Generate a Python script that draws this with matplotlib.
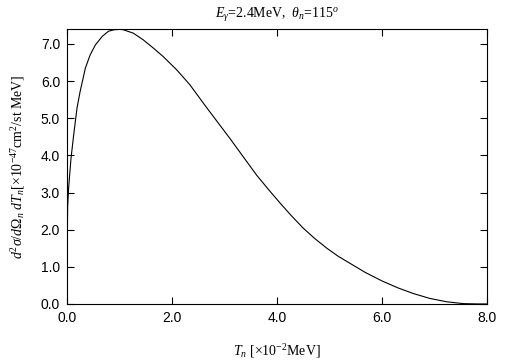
import matplotlib
matplotlib.use("Agg")
import matplotlib.pyplot as plt

plt.rcParams['mathtext.fontset'] = 'custom'
plt.rcParams['mathtext.rm'] = 'Liberation Serif'
plt.rcParams['mathtext.it'] = 'Liberation Serif:italic'

# neutron kinetic energy [x10^-2 MeV] and cross section [x10^-47 cm^2/st MeV]
T_n = [0.005, 0.012, 0.03, 0.076, 0.127, 0.19, 0.25, 0.35, 0.44, 0.54, 0.67, 0.79,
       0.90, 1.02, 1.07, 1.26, 1.45, 1.65, 1.83, 2.09, 2.34, 2.63, 3.10, 3.61,
       3.85, 4.05, 4.27, 4.50, 4.72, 4.95, 5.17, 5.36, 5.68, 6.00, 6.31,
       6.60, 6.91, 7.23, 7.55, 7.8, 8.0]
xsec = [1.75, 2.62, 3.11, 3.92, 4.55, 5.27, 5.72, 6.35, 6.70, 6.97, 7.20, 7.34,
        7.38, 7.39, 7.38, 7.29, 7.11, 6.88, 6.66, 6.30, 5.90, 5.34, 4.46, 3.47,
        3.06, 2.73, 2.38, 2.04, 1.76, 1.50, 1.28, 1.12, 0.85, 0.62, 0.43,
        0.28, 0.15, 0.06, 0.01, 0.002, 0.0]

fig = plt.figure(figsize=(5.05, 3.61), dpi=100)
ax = fig.add_axes([0.1327, 0.1579, 0.8317, 0.7618])
ax.plot(T_n, xsec, color='black', lw=0.8)

ax.set_xlim(0, 8.0)
ax.set_ylim(0, 7.4)
ax.set_xticks([0, 2, 4, 6, 8])
ax.set_yticks([0, 1, 2, 3, 4, 5, 6, 7])
ax.set_xticklabels(['0.0', '2.0', '4.0', '6.0', '8.0'], family='Liberation Sans', fontsize=10)
ax.set_yticklabels(['0.0', '1.0', '2.0', '3.0', '4.0', '5.0', '6.0', '7.0'], family='Liberation Sans', fontsize=10)
ax.tick_params(direction='in', top=True, right=True, length=5, width=0.8, pad=5)
for s in ax.spines.values():
    s.set_linewidth(0.8)

ax.set_title(r'$E_\gamma$=2.4MeV,  $\theta_n$=115$^o$', family='Liberation Serif', fontsize=10, pad=8)
ax.set_xlabel(r'$T_n$ [$\times$10$^{-2}$MeV]', family='Liberation Serif', fontsize=10, labelpad=12)
ax.set_ylabel(r'$d^2\sigma/d\Omega_n\ dT_n$[$\times$10$^{-47}$cm$^2$/st MeV]', family='Liberation Serif', fontsize=10, labelpad=10)

fig.savefig('out.png', dpi=100)
